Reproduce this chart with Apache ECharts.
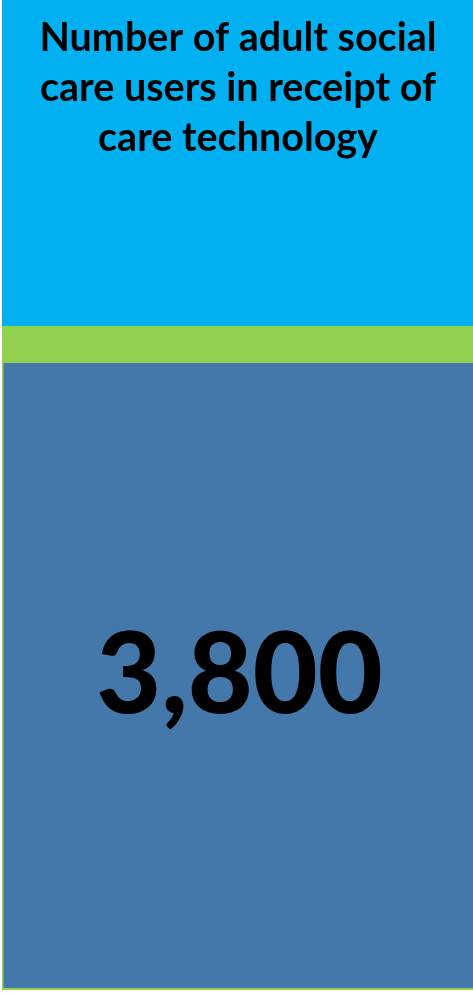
<!DOCTYPE html>
<html><head><meta charset="utf-8">
<script src="https://cdn.jsdelivr.net/npm/echarts@6/dist/echarts.min.js"></script>
<style>html,body{margin:0;padding:0;background:#fff}#c{width:473px;height:995px}</style>
</head><body><div id="c"></div>
<script>
const titleLines = ['Number of adult social', 'care users in receipt of', 'care technology'];
const values = [3800];
const chart = echarts.init(document.getElementById('c'), null, {renderer: 'canvas'});
const fmt = v => v.toLocaleString('en-GB');
chart.setOption({
  animation: false,
  graphic: [
    {type: 'rect', shape: {x: 2, y: 0, width: 471, height: 326}, style: {fill: '#00B0F0'}},
    {type: 'rect', shape: {x: 2, y: 326, width: 471, height: 664}, style: {fill: '#92D050'}},
    {type: 'rect', shape: {x: 3.5, y: 363, width: 470, height: 625}, style: {fill: '#4578AA'}},
    {type: 'text', x: 238, y: 88, style: {text: titleLines.join('\n'), fill: '#000', font: 'bold 39.5px Lato', lineHeight: 50, align: 'center', verticalAlign: 'middle'}},
    {type: 'text', x: 239.5, y: 677, style: {text: fmt(values[0]), fill: '#000', font: '900 112px Lato', align: 'center', verticalAlign: 'middle'}}
  ]
});
</script></body></html>
